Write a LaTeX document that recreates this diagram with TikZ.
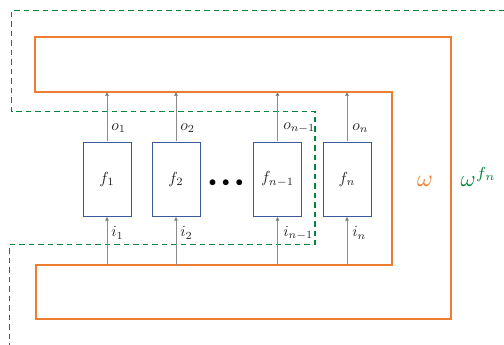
\documentclass[tikz,border=0pt]{standalone}
\usepackage{xcolor}
\definecolor{orng}{HTML}{ED7D31}
\definecolor{grn}{HTML}{00873C}
\definecolor{blu}{HTML}{3A5A9C}
\definecolor{gry}{HTML}{8C8C8C}
\definecolor{txt}{HTML}{262626}
\usetikzlibrary{arrows.meta}
\begin{document}
\begin{tikzpicture}[x=1pt,y=-1pt,
  fbox/.style={draw=blu,line width=0.9pt,scale=1.6,minimum width=30pt,minimum height=46.25pt,inner sep=0pt,text=txt},
  arr/.style={draw=gry,line width=0.8pt,-{Triangle[length=4pt,width=3.5pt,fill=black]}},
  lbl/.style={anchor=west,inner sep=0pt,text=txt,scale=1.55},
  orngline/.style={draw=orng,line width=1.15pt},
  grnline/.style={draw=grn,line width=1.4pt,dash pattern=on 5.5pt off 4pt}]
\useasboundingbox (0,0) rectangle (504,345);
% orange C shape
\draw[orngline] (35,37) -- (451,37) -- (451,319) -- (36,319) -- (36,265) -- (392,265) -- (392,92) -- (35,92) -- cycle;
% green dashed
\draw[grnline] (504,10.5) -- (11.5,10.5) -- (11.5,111.5) -- (315,111.5) -- (315,244.5) -- (9.5,244.5) -- (9.5,345);
% boxes
\node[fbox] (f1) at (107,179) {$f_1$};
\node[fbox] (f2) at (176,179) {$f_2$};
\node[fbox] (f3) at (277.5,179) {$f_{n-1}$};
\node[fbox] (f4) at (347,179) {$f_n$};
\node[scale=1.5] (dots) at (226,183) {$\bullet\,\bullet\,\bullet$};
% arrow ends
\foreach \i/\x in {1/107,2/176,3/277.5,4/347}{
  \coordinate (t\i) at (\x,92);
  \coordinate (b\i) at (\x,265);
  \draw[arr] (f\i.north) -- (t\i);
  \draw[arr] (b\i) -- (f\i.south);
}
% labels
\node[lbl] (o1) at (111,128) {$o_1$};
\node[lbl] (o2) at (180,128) {$o_2$};
\node[lbl] (o3) at (283,128) {$o_{n-1}$};
\node[lbl] (o4) at (352,128) {$o_n$};
\node[lbl] (i1) at (111,233) {$i_1$};
\node[lbl] (i2) at (180,233) {$i_2$};
\node[lbl] (i3) at (283,233) {$i_{n-1}$};
\node[lbl] (i4) at (352,233) {$i_n$};
\node[text=orng,scale=2.4] (w) at (425,181) {$\omega$};
\node[text=grn,scale=2.3] (wf) at (479,177) {$\omega^{f_n}$};
\end{tikzpicture}
\end{document}
